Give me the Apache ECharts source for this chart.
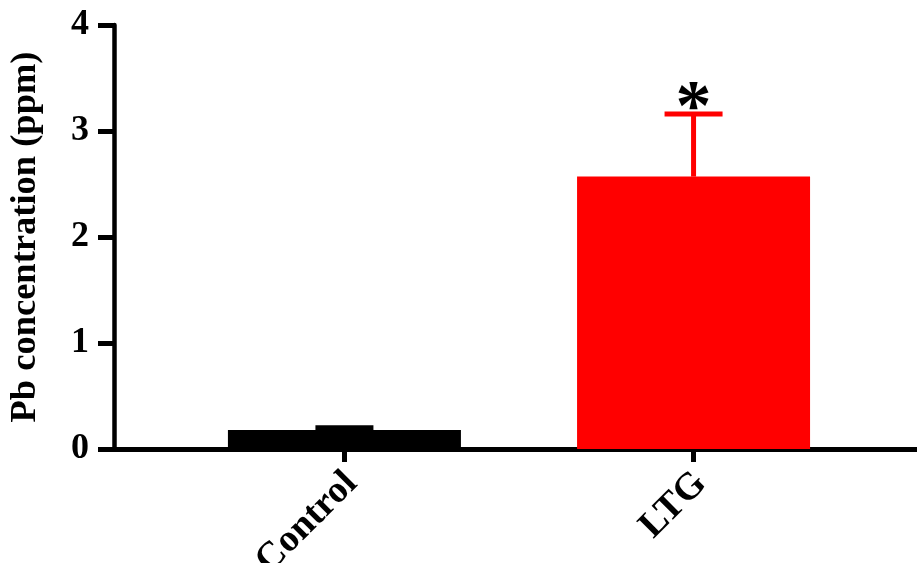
<!DOCTYPE html>
<html>
<head>
<meta charset="utf-8">
<script src="https://cdn.jsdelivr.net/npm/echarts@6/dist/echarts.min.js"></script>
<style>
html,body{margin:0;padding:0;background:#fff;}
#chart{width:917px;height:563px;}
</style>
</head>
<body>
<div id="chart"></div>
<script>
// ---- data ----
const categories = ['Control', 'LTG'];
const means = [0.18, 2.57];
const errors = [0.02, 0.59];
const significance = ['', '*'];
const yTicks = [0, 1, 2, 3, 4];

// ---- style ----
const barColors = ['#000000', '#ff0000'];
const FONT = '"Liberation Serif", "Times New Roman", serif';

const chart = echarts.init(document.getElementById('chart'));

const barData = categories.map((c, i) => ({
  value: [i, means[i]],
  itemStyle: { color: barColors[i] }
}));
const errData = categories.map((c, i) => [i, means[i], errors[i]]);

chart.setOption({
  backgroundColor: '#ffffff',
  animation: false,
  grid: { left: 114, right: 0, top: 25, bottom: 114, containLabel: false, outerBoundsMode: 'none' },
  xAxis: {
    type: 'value',
    min: -0.66,
    max: 1.64,
    splitLine: { show: false },
    axisLine: { show: true, onZero: false, lineStyle: { color: '#000', width: 5 } },
    axisTick: { show: true, customValues: [0, 1], length: 13, lineStyle: { color: '#000', width: 5 } },
    axisLabel: {
      customValues: [0, 1],
      formatter: v => categories[Math.round(v)] || '',
      rotate: 45,
      margin: 36,
      padding: [0, -10, 0, 0],
      color: '#000',
      fontFamily: FONT,
      fontWeight: 'bold',
      fontSize: 38
    }
  },
  yAxis: {
    type: 'value',
    min: yTicks[0],
    max: yTicks[yTicks.length - 1],
    interval: 1,
    name: 'Pb concentration (ppm)',
    nameLocation: 'middle',
    nameGap: 70,
    nameTextStyle: { color: '#000', fontFamily: FONT, fontWeight: 'bold', fontSize: 36.5 },
    splitLine: { show: false },
    axisLine: { show: true, onZero: false, lineStyle: { color: '#000', width: 4.5 } },
    axisTick: { show: true, length: 16, lineStyle: { color: '#000', width: 5 } },
    axisLabel: {
      margin: 25,
      color: '#000',
      fontFamily: FONT,
      fontWeight: 'bold',
      fontSize: 36
    }
  },
  series: [
    {
      type: 'bar',
      data: barData,
      barWidth: 233,
      z: 2
    },
    {
      type: 'custom',
      z: 1,
      data: errData,
      renderItem: function (params, api) {
        const i = params.dataIndex;
        const x = api.value(0), m = api.value(1), e = api.value(2);
        const base = api.coord([x, m]);
        const top = api.coord([x, m + e]);
        const half = 29;
        const c = barColors[i];
        return {
          type: 'group',
          children: [
            { type: 'line', shape: { x1: base[0], y1: base[1], x2: top[0], y2: top[1] }, style: { stroke: c, lineWidth: 5 } },
            { type: 'line', shape: { x1: top[0] - half, y1: top[1], x2: top[0] + half, y2: top[1] }, style: { stroke: c, lineWidth: 5 } },
            { type: 'text', style: { text: significance[i], x: top[0], y: top[1] + 32, align: 'center', verticalAlign: 'bottom', font: 'bold 72px ' + FONT, fill: '#000' } }
          ]
        };
      }
    }
  ]
});
</script>
</body>
</html>
